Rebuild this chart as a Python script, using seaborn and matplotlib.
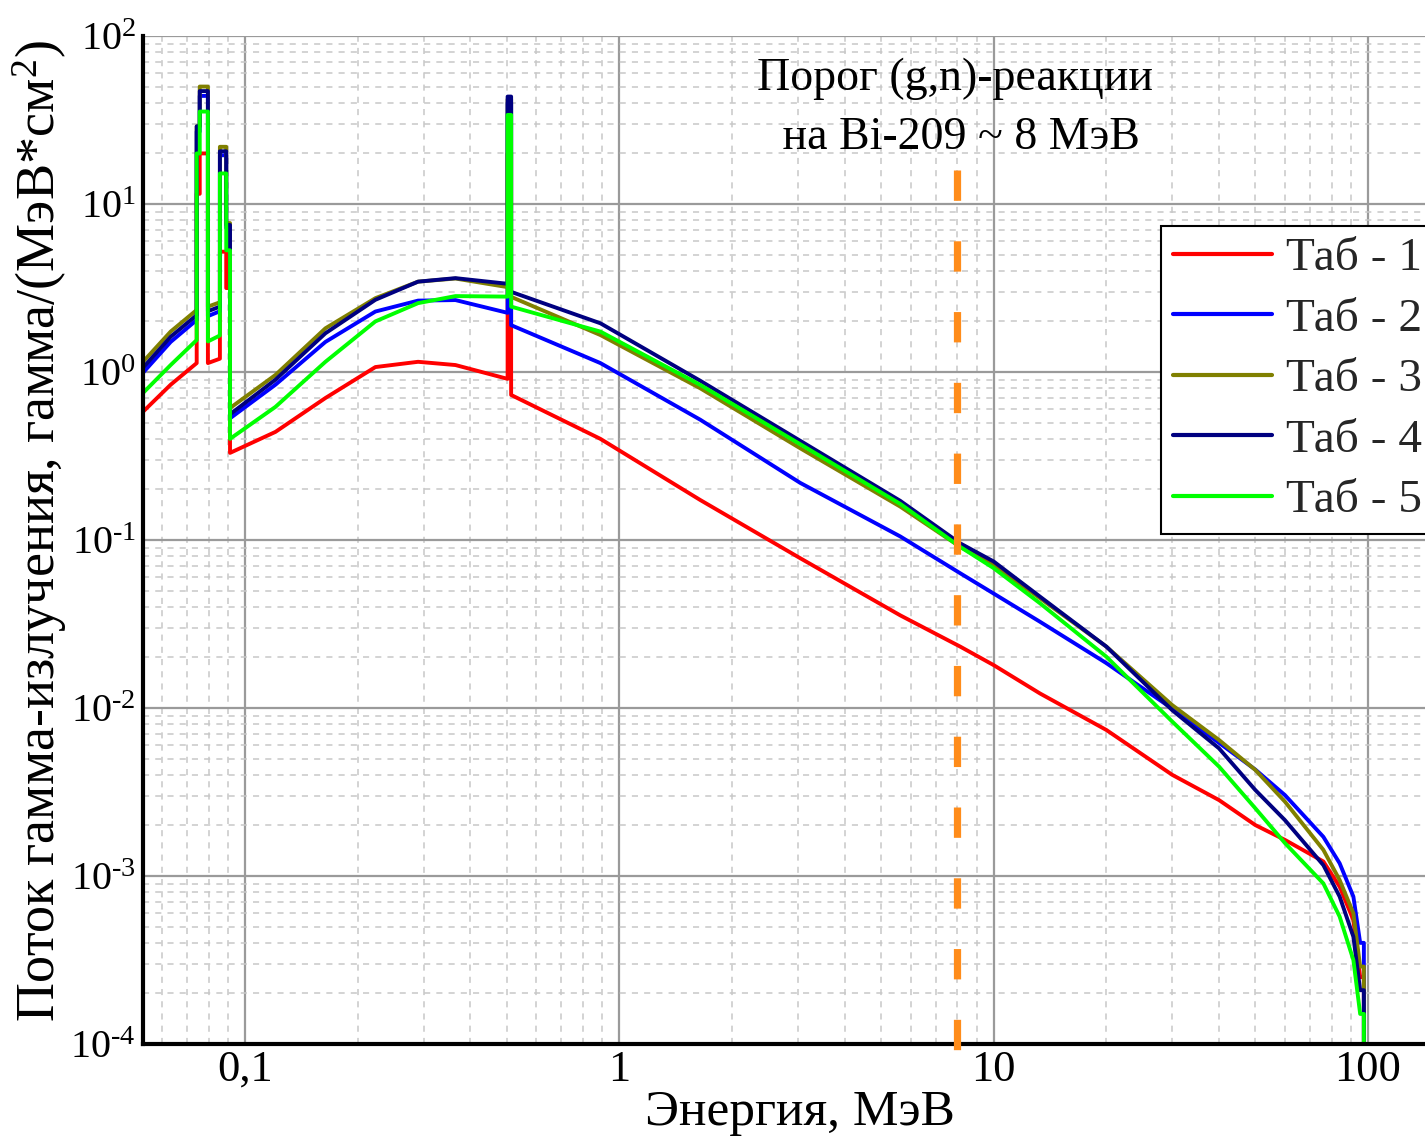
import numpy as np
import pandas as pd
import matplotlib
matplotlib.use("Agg")
import matplotlib.pyplot as plt
from matplotlib.ticker import LogLocator, NullFormatter
import seaborn as sns

# ---------------- data ----------------
energy = [0.0534, 0.0633, 0.0743, 0.0743, 0.0757, 0.0757, 0.0796, 0.0796,
          0.0857, 0.0857, 0.0891, 0.0891, 0.0912, 0.0912, 0.1206, 0.164,
          0.223, 0.29, 0.365, 0.503, 0.503, 0.514, 0.514, 0.89, 1.645,
          3.04, 5.63, 8.14, 10.0, 13.3, 20.0, 30.0, 40.0, 50.0, 60.0,
          76.0, 84.0, 91.4, 95.3, 97.5, 97.5]

tab1 = [0.58, 0.84, 1.13, 11.5, 11.5, 20, 20, 1.13,
        1.2, 5.2, 5.2, 3.16, 3.16, 0.33, 0.44, 0.70,
        1.07, 1.15, 1.10, 0.91, 20, 20, 0.73, 0.40, 0.173,
        0.078, 0.0356, 0.0232, 0.018, 0.0122, 0.0074, 0.0040, 0.00283, 0.00201, 0.00164,
        0.00122, 0.000864, 0.000547, 0.00025, 0.00025, 1e-6]

tab2 = [0.99, 1.51, 2.04, 27, 27, 44, 44, 2.15,
        2.3, 19.5, 19.5, 7.2, 7.2, 0.53, 0.84, 1.51,
        2.29, 2.66, 2.68, 2.25, 40, 40, 1.9, 1.13, 0.52,
        0.219, 0.105, 0.0634, 0.048, 0.0326, 0.0185, 0.0099, 0.0062, 0.0043, 0.00303,
        0.00171, 0.00119, 0.000754, 0.0004, 0.0004, 1e-6]

tab3 = [1.15, 1.74, 2.34, 29, 29, 50, 50, 2.45,
        2.6, 21.9, 21.9, 7.7, 7.7, 0.61, 0.96, 1.82,
        2.75, 3.45, 3.60, 3.20, 42, 42, 2.8, 1.66, 0.80,
        0.352, 0.158, 0.091, 0.071, 0.045, 0.0232, 0.0104, 0.00645, 0.00428, 0.00277,
        0.00143, 0.000946, 0.0006, 0.000289, 0.000289, 1e-6]

tab4 = [1.06, 1.62, 2.18, 29, 29, 47, 47, 2.3,
        2.45, 20.6, 20.6, 7.5, 7.5, 0.56, 0.90, 1.70,
        2.69, 3.45, 3.62, 3.35, 43.6, 43.6, 3.0, 1.95, 0.887,
        0.39, 0.171, 0.0955, 0.0745, 0.046, 0.0232, 0.0097, 0.00575, 0.00325, 0.00215,
        0.00116, 0.000754, 0.000435, 0.000209, 0.000209, 1e-6]

tab5 = [0.75, 1.10, 1.55, 20, 20, 35.5, 35.5, 1.52,
        1.65, 15.2, 15.2, 5.3, 5.3, 0.40, 0.62, 1.15,
        2.0, 2.57, 2.83, 2.81, 33.9, 33.9, 2.45, 1.74, 0.838,
        0.372, 0.164, 0.091, 0.068, 0.042, 0.0202, 0.0083, 0.00448, 0.00253, 0.00157,
        0.000903, 0.000573, 0.000316, 0.000151, 0.000151, 1e-6]

series_names = ["Таб - 1", "Таб - 2", "Таб - 3", "Таб - 4", "Таб - 5"]
series_colors = ["#ff0000", "#0000ff", "#808000", "#000080", "#00ff00"]

threshold_energy = 8.0
threshold_top = 16.0
threshold_bottom = 8e-5

x_ticks = [0.1, 1, 10, 100]
x_tick_labels = ["0,1", "1", "10", "100"]
y_ticks = [1e-4, 1e-3, 1e-2, 1e-1, 1e0, 1e1, 1e2]
y_tick_labels = ["$10^{\u20104}$", "$10^{\u20103}$", "$10^{\u20102}$", "$10^{\u20101}$",
                 "$10^{0}$", "$10^{1}$", "$10^{2}$"]

annotation = "Порог (g,n)-реакции\n на Bi-209 ~ 8 МэВ"
x_label = "Энергия, МэВ"
y_label = r"Поток гамма-излучения, гамма/(МэВ*см$^{2}$)"

# ---------------- figure ----------------
sns.set_theme(style="white")
plt.rcParams["font.family"] = ["Liberation Serif", "DejaVu Serif"]
plt.rcParams["mathtext.fontset"] = "custom"
plt.rcParams["mathtext.rm"] = "Liberation Serif"
plt.rcParams["mathtext.it"] = "Liberation Serif:italic"
plt.rcParams["mathtext.bf"] = "Liberation Serif:bold"
plt.rcParams["mathtext.default"] = "rm"

frames = []
for name, vals in zip(series_names, [tab1, tab2, tab3, tab4, tab5]):
    frames.append(pd.DataFrame({"E": energy, "flux": vals, "series": name}))
df = pd.concat(frames, ignore_index=True)

fig = plt.figure(figsize=(14.25, 11.39), dpi=100)
ax = fig.add_axes([143 / 1425, 95 / 1139, 1282 / 1425, 1008 / 1139])

sns.lineplot(data=df, x="E", y="flux", hue="series", palette=series_colors,
             estimator=None, sort=False, lw=2.8, ax=ax, legend=True)

ax.set_xscale("log")
ax.set_yscale("log")
ax.set_xlim(0.0534, 142)
ax.set_ylim(1e-4, 1e2)

ax.xaxis.set_minor_locator(LogLocator(base=10, subs=np.arange(2, 10), numticks=100))
ax.yaxis.set_minor_locator(LogLocator(base=10, subs=np.arange(2, 10), numticks=100))
ax.set_xticks(x_ticks)
ax.set_xticklabels(x_tick_labels)
ax.set_yticks(y_ticks)
ax.set_yticklabels(y_tick_labels)
ax.xaxis.set_minor_formatter(NullFormatter())
ax.yaxis.set_minor_formatter(NullFormatter())
ax.tick_params(axis="both", which="both", length=0, colors="black")
ax.tick_params(axis="x", labelsize=32, pad=4)
ax.tick_params(axis="y", labelsize=29, pad=5)

ax.grid(which="major", color="#9a9a9a", lw=1.6, ls="-")
ax.grid(which="minor", color="#c8c8c8", lw=1.1, ls=(0, (4, 4)))
ax.set_axisbelow(True)

for s in ["top", "right"]:
    ax.spines[s].set_visible(False)
for s in ["left", "bottom"]:
    ax.spines[s].set_color("black")
    ax.spines[s].set_linewidth(3)

ax.plot([threshold_energy, threshold_energy], [threshold_top, threshold_bottom],
        color="#ff8c1a", lw=5.2, ls=(0, (4.2, 5.6)), clip_on=False, zorder=5)

fig.text(955 / 1425, 1 - 108 / 1139, annotation, ha="center", va="center",
         fontsize=33, linespacing=1.5, color="black")

ax.set_xlabel(x_label, fontsize=37, color="black")
ax.set_ylabel(y_label, fontsize=39, color="black")
ax.xaxis.set_label_coords(0.5125, -0.045)
ax.yaxis.set_label_coords(-0.058, 0.509)

handles, labels = ax.get_legend_handles_labels()
for h in handles:
    h.set_linewidth(3)
leg = ax.legend(handles, labels, loc="upper left", bbox_to_anchor=(0.794, 0.812),
                fontsize=34, frameon=True, fancybox=False, edgecolor="black",
                framealpha=1, handlelength=2.1, handletextpad=0.3,
                labelspacing=0.37, borderpad=0.25, borderaxespad=0)
leg.get_frame().set_linewidth(1.5)

fig.savefig("out.png", dpi=100)
